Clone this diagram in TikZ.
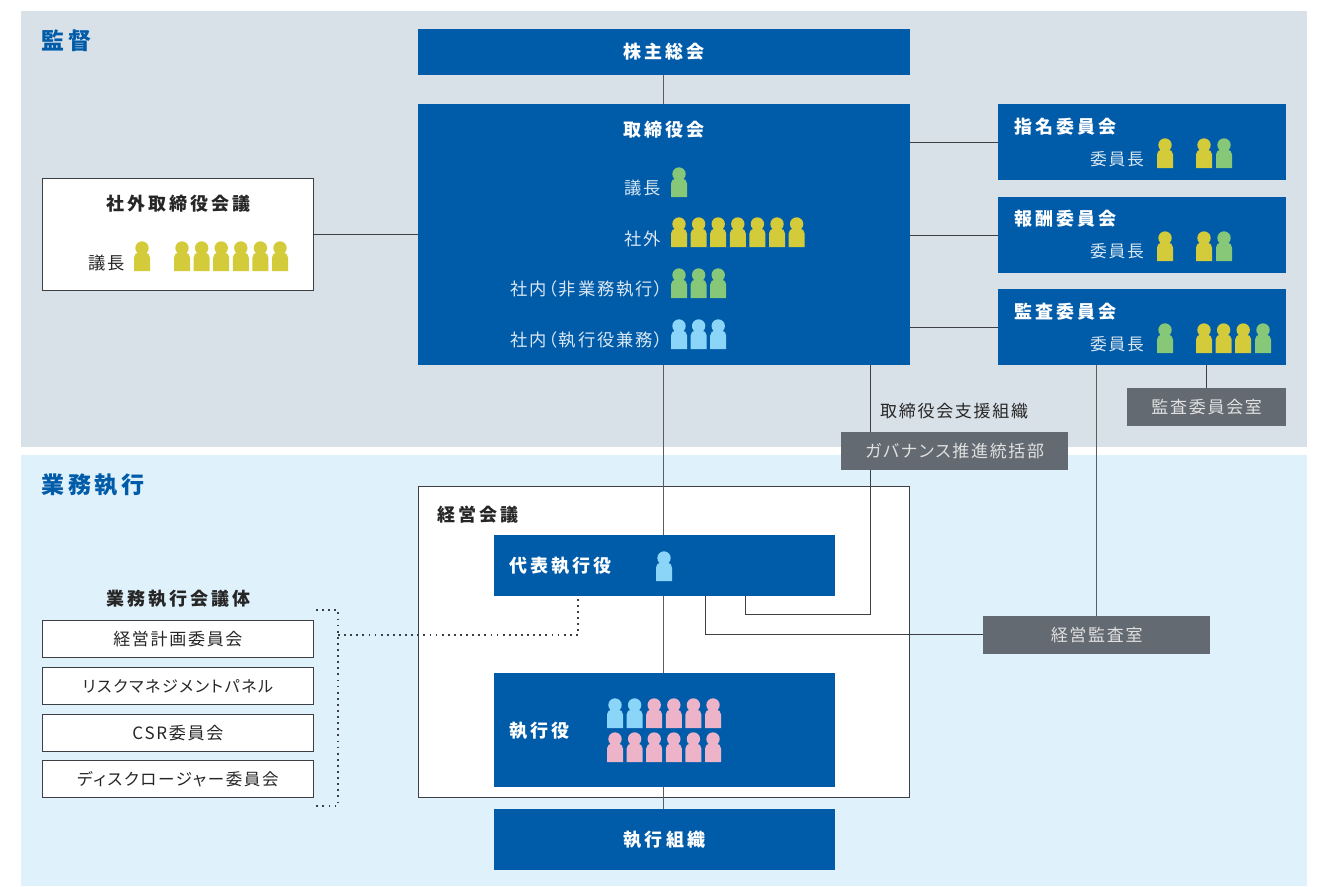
\documentclass[tikz,border=0pt]{standalone}
\usepackage{fontspec}
\setmainfont{Noto Sans CJK JP}[LetterSpace=10,RawFeature=+palt]
\newfontfamily\headfont{Noto Sans CJK JP}[LetterSpace=17,RawFeature=+palt]
\usetikzlibrary{positioning}
\definecolor{boardblue}{HTML}{005BA9}
\definecolor{superbg}{HTML}{D9E1E8}
\definecolor{execbg}{HTML}{DFF1FB}
\definecolor{officegray}{HTML}{636A71}
\definecolor{ppyellow}{HTML}{D4CB3A}
\definecolor{ppgreen}{HTML}{86C878}
\definecolor{ppblue}{HTML}{8BD6F8}
\definecolor{pppink}{HTML}{EDB3C8}
\definecolor{linegray}{HTML}{3C4044}
\tikzset{
    blueboard/.style={
           rectangle,
           fill=boardblue,
           text=white,
           inner sep=0pt,
           font=\fontsize{18}{20}\headfont\bfseries,
           },
    whiteboard/.style={
           rectangle,
           draw=linegray, thick,
           fill=white,
           text=black!85,
           inner sep=0pt,
           font=\fontsize{16.5}{20}\selectfont,
           },
    officeboard/.style={
           rectangle,
           fill=officegray,
           text=white!88!black,
           inner sep=0pt,
           font=\fontsize{17}{20}\selectfont,
           },
    headlabel/.style={text=white,inner sep=0pt,font=\fontsize{18}{20}\headfont\bfseries},
    darkhead/.style={text=black!85,inner sep=0pt,font=\fontsize{18}{20}\headfont\bfseries},
    lightlabel/.style={text=white!85!boardblue,inner sep=0pt,font=\fontsize{17.3}{20}\selectfont},
    chairlabel/.style={text=white!85!boardblue,inner sep=0pt,anchor=east,font=\fontsize{16.8}{20}\selectfont},
    arealabel/.style={text=boardblue,inner sep=0pt,anchor=west,font=\fontsize{23}{26}\headfont\bfseries},
    conn/.style={draw=linegray,line width=0.9pt},
    trunkconn/.style={draw=linegray!85,line width=1.3pt},
    dotconn/.style={draw=linegray,line width=1.8pt,dash pattern=on 1.8pt off 4.3pt},
    pics/person/.style={code={
        \fill[#1] (8,7) circle (6.7);
        \fill[#1] (0,30) [rounded corners=5pt] -- (0,11.5) -- (16,11.5) [sharp corners] -- (16,30) -- cycle;
    }},
}
\begin{document}
\begin{tikzpicture}[x=1pt,y=-1pt]
	\useasboundingbox (0,0) rectangle (1324,886);
	\fill[superbg] (21,11) rectangle (1307,447);
	\fill[execbg] (21,455) rectangle (1307,886);

	\node[arealabel] (kantoku) at (41,41) {監督};
	\node[arealabel] (gyomu) at (41,485.5) {業務執行};

	% boards
	\node[whiteboard,minimum width=491pt,minimum height=311pt,anchor=north west] (keiei) at (418,486) {};
	\node[blueboard,minimum width=492pt,minimum height=46pt] (kabunushi) at (664,52) {株主総会};
	\node[blueboard,minimum width=492pt,minimum height=261pt,anchor=north west] (torishimari) at (418,104) {};
	\node[blueboard,minimum width=288pt,minimum height=76pt,anchor=north west] (shimei) at (998,104) {};
	\node[blueboard,minimum width=288pt,minimum height=76pt,anchor=north west] (hoshu) at (998,197) {};
	\node[blueboard,minimum width=288pt,minimum height=76pt,anchor=north west] (kansa) at (998,289) {};
	\node[whiteboard,minimum width=271pt,minimum height=112pt,anchor=north west] (shagai) at (42,178) {};
	\node[blueboard,minimum width=341pt,minimum height=61pt,anchor=north west] (daihyo) at (494,535) {};
	\node[blueboard,minimum width=341pt,minimum height=114pt,anchor=north west] (shikko) at (494,673) {};
	\node[blueboard,minimum width=341pt,minimum height=61pt] (soshiki) at (664.5,839.5) {執行組織};

	% connectors under the gray boxes
	\coordinate (trunk) at (663.6,0);
	\coordinate (shienTop) at (870,365);
	\coordinate (shienBend) at (870,614);
	\coordinate (shienEnd) at (745.6,614);
	\coordinate (shienFoot) at (745.6,596);
	\coordinate (naibuTop) at (1096.6,365);
	\coordinate (naibuEnd) at (1096.6,616);
	\coordinate (naibuBend) at (705.6,634);
	\coordinate (naibuFoot) at (705.6,596);
	\coordinate (kansituTop) at (1206,365);
	\draw[trunkconn] (trunk |- kabunushi.south) -- (trunk |- torishimari.north);
	\draw[trunkconn] (trunk |- torishimari.south) -- (trunk |- daihyo.north);
	\draw[trunkconn] (trunk |- daihyo.south) -- (trunk |- shikko.north);
	\draw[trunkconn] (trunk |- shikko.south) -- (trunk |- soshiki.north);
	\draw[conn] (torishimari.east |- shimei.west) -- (shimei.west);
	\draw[conn] (torishimari.east |- hoshu.west) -- (hoshu.west);
	\draw[conn] (torishimari.east |- kansa.west) -- (kansa.west);
	\draw[conn] (shagai.east) -- (torishimari.west |- shagai.east);
	\draw[conn] (shienTop) -- (shienBend) -- (shienEnd) -- (shienFoot);
	\draw[trunkconn] (naibuTop) -- (naibuEnd);
	\draw[conn] (naibuEnd |- naibuBend) -- (naibuBend) -- (naibuFoot);

	\node[officeboard,minimum width=159pt,minimum height=38pt,anchor=north west] (kansitu) at (1127,388) {監査委員会室};
	\node[officeboard,minimum width=227pt,minimum height=38pt,anchor=north west] (governance) at (841,432) {ガバナンス推進統括部};
	\node[officeboard,minimum width=227pt,minimum height=38pt,anchor=north west] (naibu) at (983,616) {経営監査室};
	\draw[conn] (kansituTop) -- (kansitu.north -| kansituTop);

	% texts on the boards
	\node[headlabel] (torishimariT) at (664,129.5) {取締役会};
	\node[lightlabel,anchor=east] (gichoT) at (661,188) {議長};
	\node[lightlabel,anchor=east] (shagaiT) at (661,239) {社外};
	\node[lightlabel,anchor=east] (hishikkoT) at (663,289) {社内（非業務執行）};
	\node[lightlabel,anchor=east] (kenmuT) at (663,340) {社内（執行役兼務）};
	\node[headlabel,anchor=west] (shimeiT) at (1014.5,126.5) {指名委員会};
	\node[headlabel,anchor=west] (hoshuT) at (1014.5,218.5) {報酬委員会};
	\node[headlabel,anchor=west] (kansaT) at (1014.5,311.5) {監査委員会};
	\node[chairlabel] (shimeiC) at (1144,159) {委員長};
	\node[chairlabel] (hoshuC) at (1144,251) {委員長};
	\node[chairlabel] (kansaC) at (1144,344) {委員長};
	\node[darkhead] (shagaiName) at (178.5,203.5) {社外取締役会議};
	\node[text=black!85,inner sep=0pt,anchor=east,font=\fontsize{17.3}{20}\selectfont] (shagaiC) at (125,263) {議長};
	\node[text=black!85,inner sep=0pt,anchor=west,font=\fontsize{17}{20}\selectfont] (shien) at (880,411) {取締役会支援組織};
	\node[darkhead,anchor=west] (keieiT) at (437,515) {経営会議};
	\node[headlabel,anchor=west] (daihyoT) at (509.5,565.5) {代表執行役};
	\node[headlabel,anchor=west] (shikkoT) at (509.5,730.5) {執行役};

	% meetings on the left
	\node[darkhead] (kaigitai) at (178.5,598.5) {業務執行会議体};
	\node[whiteboard,minimum width=271pt,minimum height=37pt,anchor=north west,font=\fontsize{17}{20}\selectfont] (plan) at (42,620) {経営計画委員会};
	\node[whiteboard,minimum width=271pt,minimum height=37pt,anchor=north west,font=\fontsize{16}{20}\selectfont] (risk) at (42,667) {リスクマネジメントパネル};
	\node[whiteboard,minimum width=271pt,minimum height=37pt,anchor=north west,font=\fontsize{17}{20}\selectfont] (csr) at (42,714) {CSR委員会};
	\node[whiteboard,minimum width=271pt,minimum height=37pt,anchor=north west] (disclosure) at (42,760) {ディスクロージャー委員会};

	\coordinate (braceTop) at (316,610);
	\coordinate (braceTopR) at (338,610);
	\coordinate (braceBotR) at (338,806);
	\coordinate (braceBot) at (316,806);
	\coordinate (braceMid) at (338,635);
	\coordinate (dotBend) at (578,635);
	\coordinate (dotFoot) at (578,598);
	\draw[dotconn] (braceTop) -- (braceTopR) -- (braceBotR) -- (braceBot);
	\draw[dotconn] (braceMid) -- (dotBend) -- (dotFoot);

	% people
	\pic at (671,167) {person=ppgreen};
	\foreach \n in {0,...,6} \pic at (671+19.6*\n,217) {person=ppyellow};
	\foreach \n in {0,1,2} \pic at (671+19.6*\n,268) {person=ppgreen};
	\foreach \n in {0,1,2} \pic at (671+19.6*\n,319) {person=ppblue};

	\foreach \top in {138,231} {
		\pic at (1157,\top) {person=ppyellow};
		\pic at (1196,\top) {person=ppyellow};
		\pic at (1216,\top) {person=ppgreen};
	}
	\pic at (1157,323) {person=ppgreen};
	\foreach \n in {0,1,2} \pic at (1196+19.6*\n,323) {person=ppyellow};
	\pic at (1255,323) {person=ppgreen};

	\pic at (134,241) {person=ppyellow};
	\foreach \n in {0,...,5} \pic at (174+19.6*\n,241) {person=ppyellow};

	\pic at (656,551) {person=ppblue};

	\foreach \n in {0,1} \pic at (607+19.6*\n,698) {person=ppblue};
	\foreach \n in {2,...,5} \pic at (607+19.6*\n,698) {person=pppink};
	\foreach \n in {0,...,5} \pic at (607+19.6*\n,732) {person=pppink};
\end{tikzpicture}
\end{document}
